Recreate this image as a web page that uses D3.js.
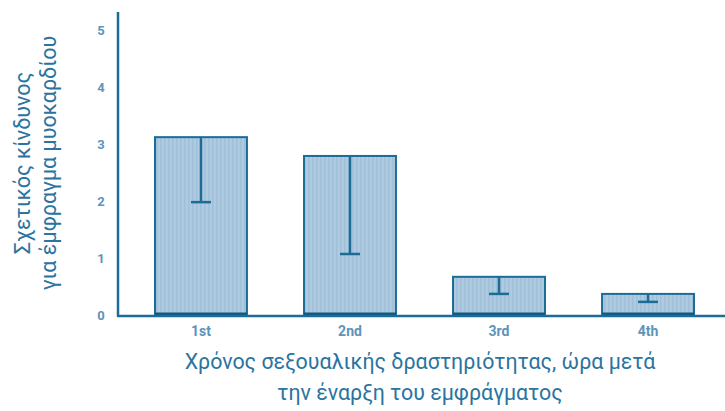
<!DOCTYPE html>
<html><head><meta charset="utf-8">
<script src="https://cdn.jsdelivr.net/npm/d3@7"></script>
<style>body{margin:0;background:#fff}svg{display:block}</style>
</head><body>
<svg id="c" width="725" height="411"></svg>
<script>
const categories = ["1st", "2nd", "3rd", "4th"];
const values = [3.12, 2.79, 0.67, 0.37];
const lower = [1.98, 1.07, 0.37, 0.23];
const yTicks = [0, 1, 2, 3, 4, 5];
const yLabel = ["Σχετικός κίνδυνος", "για έμφραγμα μυοκαρδίου"];
const xLabel = ["Χρόνος σεξουαλικής δραστηριότητας, ώρα μετά", "την έναρξη του εμφράγματος"];

const svg = d3.select("#c");
const dark = "#1b6c97", textC = "#2a74a0", tickC = "#5c94ba";
const defs = svg.append("defs");
const pat = defs.append("pattern").attr("id","h").attr("patternUnits","userSpaceOnUse").attr("width",4).attr("height",4);
pat.append("rect").attr("width",4).attr("height",4).attr("fill","#b0cae0");
pat.append("rect").attr("x",0).attr("width",1.5).attr("height",4).attr("fill","#a0bfd8");

const x = d3.scaleBand().domain(categories).range([155, 694]).paddingInner(0.383).paddingOuter(0);
const y = d3.scaleLinear().domain([0,5]).range([315, 30]);

svg.selectAll("rect.bar").data(categories).join("rect").attr("class","bar")
  .attr("x", d=>x(d)).attr("width", x.bandwidth())
  .attr("y", (d,i)=>y(values[i])).attr("height",(d,i)=>y(0)-y(values[i]))
  .attr("fill","url(#h)").attr("stroke",dark).attr("stroke-width",2);
svg.selectAll("line.base").data(categories).join("line")
  .attr("x1",d=>x(d)).attr("x2",d=>x(d)+x.bandwidth()).attr("y1",y(0)-1).attr("y2",y(0)-1)
  .attr("stroke","#0f5a82").attr("stroke-width",3);
svg.selectAll("line.err").data(categories).join("line")
  .attr("x1",d=>x(d)+x.bandwidth()/2).attr("x2",d=>x(d)+x.bandwidth()/2)
  .attr("y1",(d,i)=>y(values[i])).attr("y2",(d,i)=>y(lower[i]))
  .attr("stroke",dark).attr("stroke-width",2.5);
svg.selectAll("line.cap").data(categories).join("line")
  .attr("x1",d=>x(d)+x.bandwidth()/2-10).attr("x2",d=>x(d)+x.bandwidth()/2+10)
  .attr("y1",(d,i)=>y(lower[i])).attr("y2",(d,i)=>y(lower[i]))
  .attr("stroke",dark).attr("stroke-width",2.5);

svg.append("line").attr("x1",118).attr("x2",118).attr("y1",12).attr("y2",y(0)+1.5).attr("stroke",dark).attr("stroke-width",2.5);
svg.append("line").attr("x1",117).attr("x2",725).attr("y1",y(0)+1).attr("y2",y(0)+1).attr("stroke",dark).attr("stroke-width",2.5);

svg.selectAll("text.yt").data(yTicks).join("text")
  .attr("x",101).attr("y",d=>y(d)+5).attr("text-anchor","middle")
  .attr("font-family","Liberation Sans Narrow, Roboto, sans-serif").attr("font-weight","bold").attr("font-size",13)
  .attr("fill",tickC).text(d=>d);
svg.selectAll("text.xt").data(categories).join("text")
  .attr("x",d=>x(d)+x.bandwidth()/2).attr("y",336).attr("text-anchor","middle")
  .attr("font-family","Liberation Sans Narrow, Roboto, sans-serif").attr("font-weight","bold").attr("font-size",14)
  .attr("fill",tickC).text(d=>d);

const yl = svg.append("text").attr("transform","translate(0,163) rotate(-90)").attr("text-anchor","middle")
  .attr("font-family","Roboto, sans-serif").attr("font-size",21.5).attr("fill",textC);
yl.selectAll("tspan").data(yLabel).join("tspan").attr("x",0).attr("y",(d,i)=>30+i*26).text(d=>d);

svg.selectAll("text.xl").data(xLabel).join("text")
  .attr("x",420).attr("y",(d,i)=>369+i*31).attr("text-anchor","middle")
  .attr("font-family","Roboto, sans-serif").attr("font-size",21.4).attr("fill",textC).text(d=>d);
</script>
</body></html>
